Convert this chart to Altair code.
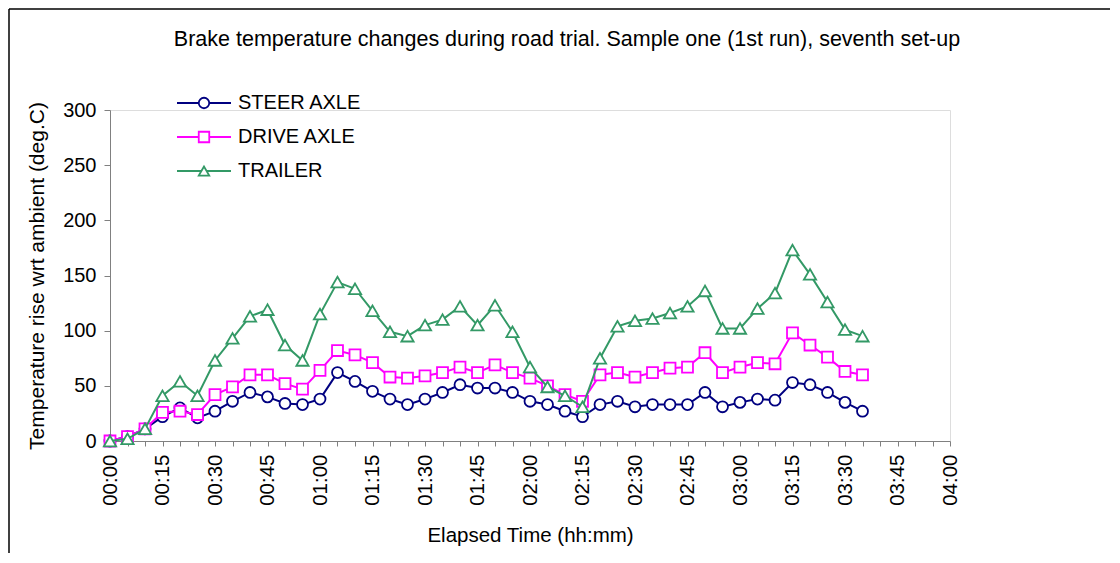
import altair as alt
import pandas as pd

# Elapsed time in minutes (readings every 5 minutes, 00:00 .. 03:35)
minutes = [0, 5, 10, 15, 20, 25, 30, 35, 40, 45, 50, 55, 60, 65, 70, 75, 80, 85, 90, 95,
           100, 105, 110, 115, 120, 125, 130, 135, 140, 145, 150, 155, 160, 165, 170, 175,
           180, 185, 190, 195, 200, 205, 210, 215]

steer_axle = [0, 4, 11, 22, 30, 21, 27, 36, 44, 40, 34, 33, 38, 62, 54, 45, 38, 33, 38, 44,
              51, 48, 48, 44, 36, 33, 27, 22, 33, 36, 31, 33, 33, 33, 44, 31, 35, 38, 37, 53,
              51, 44, 35, 27]

drive_axle = [0, 4, 11, 26, 27, 24, 42, 49, 60, 60, 52, 47, 64, 82, 78, 71, 58, 57, 59, 62,
              67, 62, 69, 62, 57, 50, 42, 36, 60, 62, 58, 62, 66, 67, 80, 62, 67, 71, 70, 98,
              87, 76, 63, 60]

trailer = [0, 2, 11, 41, 54, 41, 73, 93, 113, 119, 87, 73, 115, 144, 138, 118, 99, 95, 105, 110,
           122, 105, 123, 99, 67, 49, 41, 31, 75, 104, 109, 111, 116, 122, 136, 102, 102, 120, 134, 173,
           151, 126, 101, 95]

series_names = ["STEER AXLE", "DRIVE AXLE", "TRAILER"]
series_colors = ["#000080", "#FF00FF", "#339966"]
series_shapes = ["circle", "square", "triangle-up"]

y_ticks = [0, 50, 100, 150, 200, 250, 300]
x_tick_minutes = list(range(0, 241, 5))

title_text = ["Brake temperature changes during road trial. Sample one (1st run), seventh set-up"]

FONT = "Liberation Sans"

rows = []
for name, vals in zip(series_names, [steer_axle, drive_axle, trailer]):
    for m, v in zip(minutes, vals):
        rows.append({"series": name, "minutes": m, "value": v})
df = pd.DataFrame(rows)

label_expr = ("datum.value % 15 === 0 ? "
              "(floor(datum.value / 60) < 10 ? '0' : '') + floor(datum.value / 60) + ':' + "
              "(datum.value % 60 < 10 ? '0' : '') + (datum.value % 60) : ''")

x_enc = alt.X("minutes:Q",
              scale=alt.Scale(domain=[0, 240], nice=False, zero=False),
              axis=alt.Axis(title="Elapsed Time (hh:mm)", values=x_tick_minutes,
                            labelExpr=label_expr, labelAngle=270, labelFont=FONT,
                            labelFontSize=20.5, labelColor="#000000", labelPadding=8,
                            labelOverlap=False, labelFlush=False,
                            tickSize=5, tickColor="#808080", domainColor="#808080",
                            grid=False, titleFont=FONT, titleFontSize=20.5,
                            titleFontWeight="normal", titleColor="#000000",
                            titlePadding=20))
y_enc = alt.Y("value:Q",
              scale=alt.Scale(domain=[0, 300], nice=False),
              axis=alt.Axis(title="Temperature rise wrt ambient (deg.C)", values=y_ticks,
                            labelFont=FONT, labelFontSize=20, labelColor="#000000",
                            labelPadding=8, tickSize=6, tickColor="#808080",
                            domainColor="#808080", grid=False, titleFont=FONT,
                            titleFontSize=21, titleFontWeight="normal",
                            titleColor="#000000", titlePadding=15))

base = alt.Chart(df)
layers = []
for name, color, shape in zip(series_names, series_colors, series_shapes):
    sub = base.transform_filter(alt.datum.series == name)
    layers.append(sub.mark_line(color=color, strokeWidth=2).encode(x=x_enc, y=y_enc))
    layers.append(sub.mark_point(shape=shape, color=color, fill="white", filled=False,
                                 strokeWidth=1.8, opacity=1,
                                 size=120 if shape != "triangle-up" else 150)
                  .encode(x=x_enc, y=y_enc))

data_chart = alt.layer(*layers)

# manual legend (line through marker, as in the original)
leg_df = pd.DataFrame({"series": series_names, "idx": [0, 1, 2]})
leg_y = alt.Y("idx:Q", scale=alt.Scale(domain=[0, 2], range=[-7, 61], nice=False, zero=False),
              axis=None)
leg_color = alt.Color("series:N", scale=alt.Scale(domain=series_names, range=series_colors),
                      legend=None)
leg_base = alt.Chart(leg_df)
leg_rule = leg_base.mark_rule(strokeWidth=2).encode(
    x=alt.value(67), x2=alt.value(121), y=leg_y, color=leg_color)
leg_point = leg_base.mark_point(fill="white", filled=False, strokeWidth=1.8, opacity=1,
                                size=110).encode(
    x=alt.value(94), y=leg_y, color=leg_color,
    shape=alt.Shape("series:N", scale=alt.Scale(domain=series_names, range=series_shapes),
                    legend=None))
leg_text = leg_base.mark_text(align="left", baseline="middle", font=FONT, fontSize=20,
                              color="#000000").encode(
    x=alt.value(128), y=leg_y, text="series:N")
legend = alt.layer(leg_rule, leg_point, leg_text)

# chart title as a text mark above the plot
title_df = pd.DataFrame({"t": title_text})
title_mark = alt.Chart(title_df).mark_text(
    align="center", baseline="middle", font=FONT, fontSize=21.5, color="#000000"
).encode(x=alt.value(457), y=alt.value(-70), text="t:N")

# outer frame (top and left edges, as in the cropped original)
frame_top = alt.Chart(title_df).mark_rule(color="#000000", strokeWidth=1.5).encode(
    x=alt.value(-101), x2=alt.value(1010), y=alt.value(-101))
frame_left = alt.Chart(title_df).mark_rule(color="#000000", strokeWidth=1.5).encode(
    x=alt.value(-101), y=alt.value(-101), y2=alt.value(460))

chart = alt.layer(data_chart, legend, title_mark, frame_top, frame_left).resolve_scale(
    y="independent", color="independent", shape="independent"
).properties(
    width=840, height=331,
    autosize=alt.AutoSizeParams(type="none"),
    padding={"left": 102, "top": 102, "right": 160, "bottom": 112},
).configure_view(stroke=None).configure(background="white")

chart.save("out.html", embed_options={"renderer": "svg", "actions": False})
